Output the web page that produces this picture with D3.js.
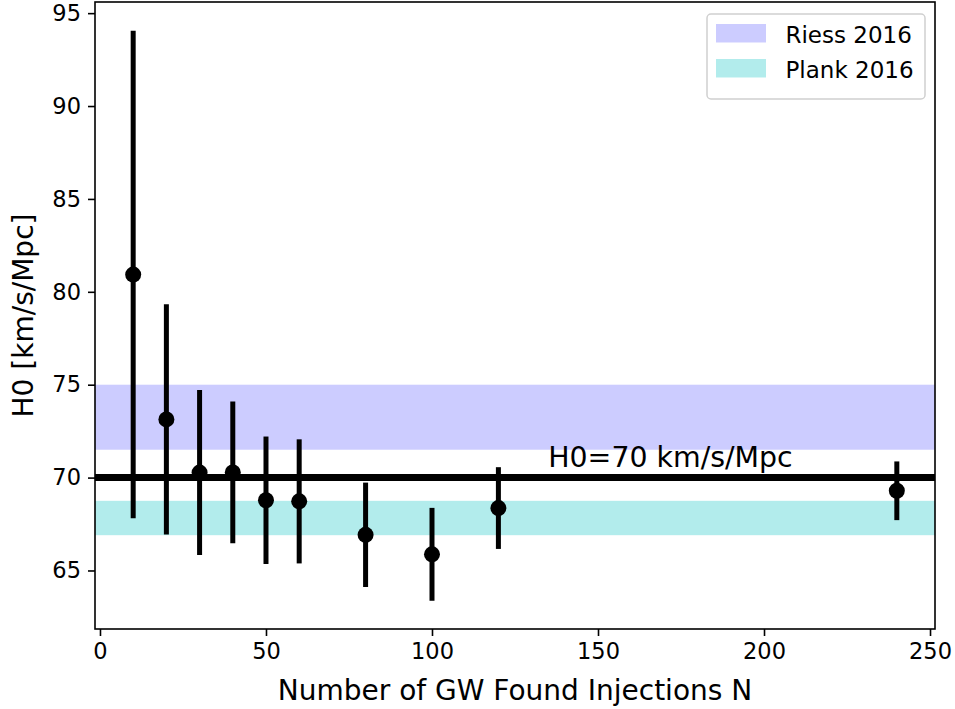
<!DOCTYPE html>
<html>
<head>
<meta charset="utf-8">
<script src="https://cdn.jsdelivr.net/npm/d3@7"></script>
<style>
  html, body { margin: 0; padding: 0; background: #fff; }
  svg { display: block; font-family: "DejaVu Sans", sans-serif; }
</style>
</head>
<body>
<svg id="chart" width="955" height="709"></svg>
<script>
// Number of found injections and the recovered H0 with its 1-sigma error
const injections = [10, 20, 30, 40, 50, 60, 80, 100, 120, 240];
const h0Values   = [80.93, 73.13, 70.27, 70.28, 68.78, 68.72, 66.92, 65.87, 68.36, 69.29];
const h0Errors   = [13.12, 6.20, 4.44, 3.81, 3.43, 3.34, 2.81, 2.50, 2.20, 1.58];

// Reference measurements drawn as horizontal bands
const bandNames  = ["Riess 2016", "Plank 2016"];
const bandLow    = [71.5, 66.9];
const bandHigh   = [75.0, 68.75];
const bandColors = ["rgba(0,0,255,0.2)", "rgba(0,191,191,0.3)"];

// True value line and its annotation
const trueH0 = 70;
const trueLabel = "H0=70 km/s/Mpc";
const trueLabelX = 135;
const trueLabelY = 70.55;

const xTicks = [0, 50, 100, 150, 200, 250];
const yTicks = [65, 70, 75, 80, 85, 90, 95];
const xTitle = "Number of GW Found Injections N";
const yTitle = "H0 [km/s/Mpc]";

const svg = d3.select("#chart");
const plot = { left: 95, right: 935, top: 2, bottom: 629 };

const x = d3.scaleLinear().domain([-1.5, 251.5]).range([plot.left, plot.right]);
const y = d3.scaleLinear().domain([61.85, 95.6]).range([plot.bottom, plot.top]);

const g = svg.append("g");

// Bands
g.selectAll("rect.band")
  .data(bandNames.map((n, i) => ({ name: n, lo: bandLow[i], hi: bandHigh[i], color: bandColors[i] })))
  .join("rect")
  .attr("class", "band")
  .attr("x", plot.left)
  .attr("width", plot.right - plot.left)
  .attr("y", d => y(d.hi))
  .attr("height", d => y(d.lo) - y(d.hi))
  .attr("fill", d => d.color);

// True H0 line
g.append("line")
  .attr("x1", plot.left).attr("x2", plot.right)
  .attr("y1", y(trueH0)).attr("y2", y(trueH0))
  .attr("stroke", "#000").attr("stroke-width", 7);

g.append("text")
  .attr("x", x(trueLabelX)).attr("y", y(trueLabelY))
  .attr("font-size", 28.4)
  .attr("fill", "#000")
  .text(trueLabel);

// Error bars and points
const pts = injections.map((n, i) => ({ n, v: h0Values[i], e: h0Errors[i] }));
g.selectAll("line.err").data(pts).join("line")
  .attr("class", "err")
  .attr("x1", d => x(d.n)).attr("x2", d => x(d.n))
  .attr("y1", d => y(d.v - d.e)).attr("y2", d => y(d.v + d.e))
  .attr("stroke", "#000").attr("stroke-width", 5);

g.selectAll("circle.pt").data(pts).join("circle")
  .attr("class", "pt")
  .attr("cx", d => x(d.n)).attr("cy", d => y(d.v))
  .attr("r", 8)
  .attr("fill", "#000");

// Frame
svg.append("rect")
  .attr("x", plot.left).attr("y", plot.top)
  .attr("width", plot.right - plot.left).attr("height", plot.bottom - plot.top)
  .attr("fill", "none").attr("stroke", "#000").attr("stroke-width", 1.6);

// Axes
const xAxis = svg.append("g")
  .attr("transform", `translate(0,${plot.bottom})`)
  .call(d3.axisBottom(x).tickValues(xTicks).tickSize(7).tickPadding(7).tickFormat(d3.format("d")));
const yAxis = svg.append("g")
  .attr("transform", `translate(${plot.left},0)`)
  .call(d3.axisLeft(y).tickValues(yTicks).tickSize(7).tickPadding(7).tickFormat(d3.format("d")));

[xAxis, yAxis].forEach(a => {
  a.select(".domain").remove();
  a.selectAll(".tick line").attr("stroke", "#000").attr("stroke-width", 1.6);
  a.selectAll(".tick text").attr("font-size", 22.5).attr("fill", "#000")
    .attr("font-family", "DejaVu Sans, sans-serif");
});

// Axis titles
svg.append("text")
  .attr("x", (plot.left + plot.right) / 2).attr("y", 700)
  .attr("text-anchor", "middle")
  .attr("font-size", 28).attr("fill", "#000")
  .text(xTitle);

svg.append("text")
  .attr("transform", `translate(33,${(plot.top + plot.bottom) / 2}) rotate(-90)`)
  .attr("text-anchor", "middle")
  .attr("font-size", 28).attr("fill", "#000")
  .text(yTitle);

// Legend
const legend = svg.append("g").attr("transform", "translate(707,14)");
legend.append("rect")
  .attr("width", 218).attr("height", 85)
  .attr("rx", 4).attr("ry", 4)
  .attr("fill", "rgba(255,255,255,0.8)")
  .attr("stroke", "#d0d0d0").attr("stroke-width", 1.5);

const items = legend.selectAll("g.item")
  .data(bandNames.map((n, i) => ({ name: n, color: bandColors[i] })))
  .join("g")
  .attr("class", "item")
  .attr("transform", (d, i) => `translate(9,${10 + i * 35})`);
items.append("rect")
  .attr("width", 50).attr("height", 18.5)
  .attr("fill", d => d.color);
items.append("text")
  .attr("x", 69.5).attr("y", 18.7)
  .attr("font-size", 23).attr("fill", "#000")
  .text(d => d.name);
</script>
</body>
</html>
